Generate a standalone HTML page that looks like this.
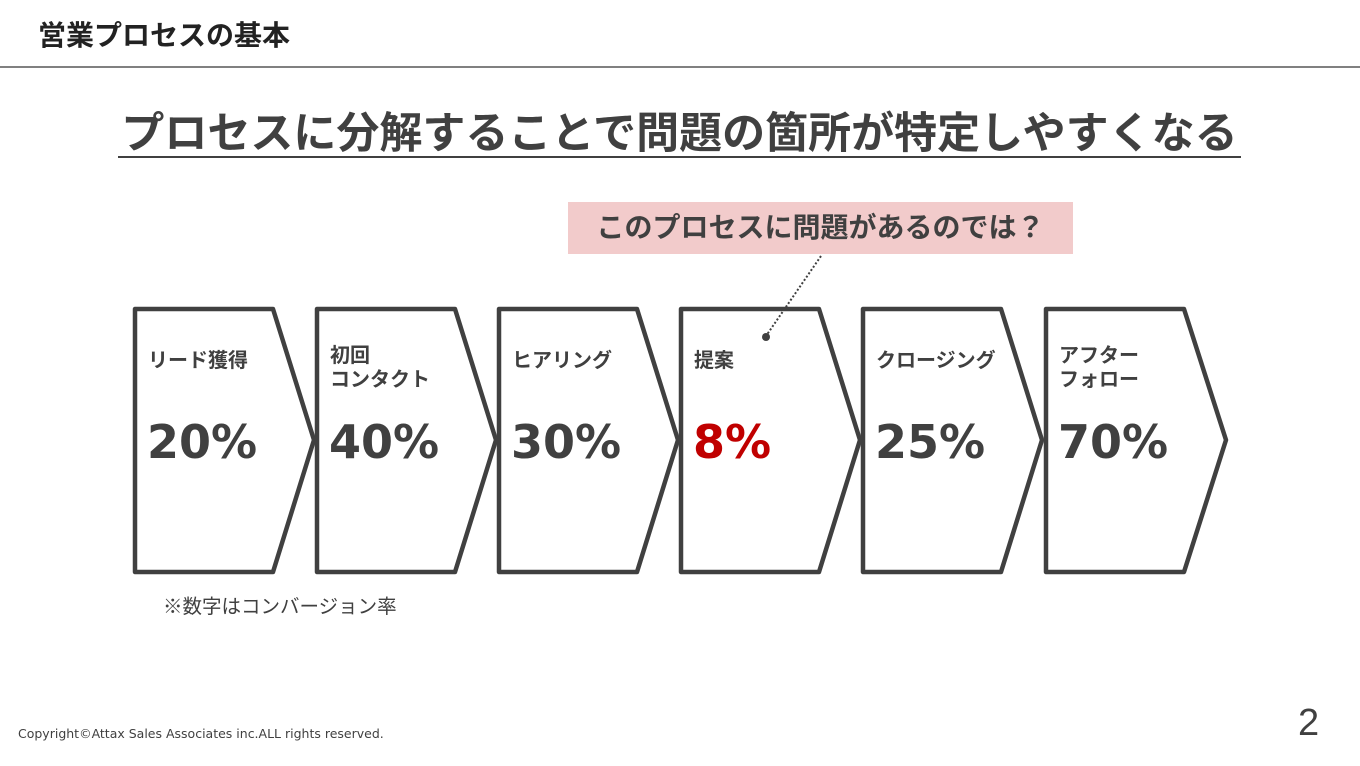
<!DOCTYPE html>
<html><head><meta charset="utf-8"><style>
body{margin:0;width:1360px;height:766px;background:#fff;position:relative;overflow:hidden;font-family:"Liberation Sans","Noto Sans CJK JP",sans-serif;color:#404040}
.a{position:absolute;white-space:nowrap}
.p{font-family:"DejaVu Sans",sans-serif;font-size:46px;font-weight:bold}
</style></head><body>
<div class="a" style="left:38px;top:14px;font-size:28px;font-weight:bold;color:#222">営業プロセスの基本</div>
<div class="a" style="left:0;top:66px;width:1360px;height:2px;background:#808080"></div>
<div class="a" style="left:112px;top:99px;width:1135px;text-align:center;font-size:43px;font-weight:bold;color:#404040">プロセスに分解することで問題の箇所が特定しやすくなる</div>
<div class="a" style="left:118px;top:156px;width:1123px;height:2px;background:#404040"></div>
<div class="a" style="left:568px;top:202px;width:505px;height:52px;background:#f2cbcb"></div>
<div class="a" style="left:568px;top:206px;width:505px;text-align:center;font-size:28px;font-weight:bold;color:#404040">このプロセスに問題があるのでは？</div>
<svg class="a" style="left:0;top:0" width="1360" height="766">
<g fill="#fff" stroke="#404040" stroke-width="4.5" stroke-linejoin="round">
<polygon points="135,309 273,309 314,440 273,572 135,572"/>
<polygon points="317,309 455,309 496,440 455,572 317,572"/>
<polygon points="499,309 637,309 678,440 637,572 499,572"/>
<polygon points="681,309 819,309 860,440 819,572 681,572"/>
<polygon points="863,309 1001,309 1042,440 1001,572 863,572"/>
<polygon points="1046,309 1184,309 1226,440 1184,572 1046,572"/>
</g>
<line x1="821" y1="256" x2="766" y2="336" stroke="#404040" stroke-width="2" stroke-dasharray="2,2"/>
<circle cx="766" cy="337" r="4" fill="#404040"/>
</svg>
<div class="a" style="left:148px;top:344px;font-size:20px;font-weight:bold">リード獲得</div>
<div class="a" style="left:330px;top:344px;font-size:20px;font-weight:bold;line-height:24px">初回<br>コンタクト</div>
<div class="a" style="left:512px;top:344px;font-size:20px;font-weight:bold">ヒアリング</div>
<div class="a" style="left:694px;top:344px;font-size:20px;font-weight:bold">提案</div>
<div class="a" style="left:876px;top:344px;font-size:20px;font-weight:bold">クロージング</div>
<div class="a" style="left:1059px;top:344px;font-size:20px;font-weight:bold;line-height:24px">アフター<br>フォロー</div>
<div class="a p" style="left:147px;top:415px">20%</div>
<div class="a p" style="left:329px;top:415px">40%</div>
<div class="a p" style="left:511px;top:415px">30%</div>
<div class="a p" style="left:693px;top:415px;color:#c00000">8%</div>
<div class="a p" style="left:875px;top:415px">25%</div>
<div class="a p" style="left:1058px;top:415px">70%</div>
<div class="a" style="left:163px;top:590px;font-size:19.5px;color:#404040">※数字はコンバージョン率</div>
<div class="a" style="left:18px;top:726px;font-family:'DejaVu Sans',sans-serif;font-size:12.5px;color:#404040">Copyright©Attax Sales Associates inc.ALL rights reserved.</div>
<div class="a" style="left:1298px;top:702px;font-size:38px;color:#404040">2</div>
</body></html>
